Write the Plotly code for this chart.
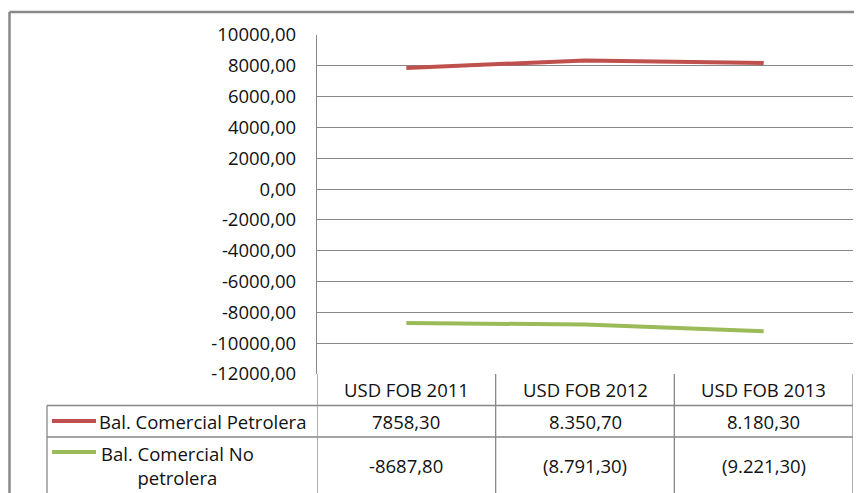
import plotly.graph_objects as go

# ---- data ----
categories = ["USD FOB 2011", "USD FOB 2012", "USD FOB 2013"]
series_names = ["Bal. Comercial Petrolera", "Bal. Comercial No<br>petrolera"]
petrolera = [7858.30, 8350.70, 8180.30]
no_petrolera = [-8687.80, -8791.30, -9221.30]
petrolera_labels = ["7858,30", "8.350,70", "8.180,30"]
no_petrolera_labels = ["-8687,80", "(8.791,30)", "(9.221,30)"]
y_tickvals = [10000, 8000, 6000, 4000, 2000, 0, -2000, -4000, -6000, -8000, -10000, -12000]
y_ticktext = ["10000,00", "8000,00", "6000,00", "4000,00", "2000,00", "0,00",
              "-2000,00", "-4000,00", "-6000,00", "-8000,00", "-10000,00", "-12000,00"]

# the page body adds an 8px margin, so the figure is placed at (8, 8) in the window
OFF = 8
W, H = 862 - OFF, 493 - OFF
RED = "#C0504D"
GREEN = "#9BBB59"
GRID = "#878787"
FONT = "Open Sans"
TXT = "#111111"
FS = 18.5


def px(x):
    return (x - OFF) / W


def py(y):
    return 1 - (y - OFF) / H


fig = go.Figure()
fig.add_trace(go.Scatter(x=categories, y=petrolera, mode="lines",
                         line=dict(color=RED, width=4), name="Bal. Comercial Petrolera"))
fig.add_trace(go.Scatter(x=categories, y=no_petrolera, mode="lines",
                         line=dict(color=GREEN, width=4), name="Bal. Comercial No petrolera"))

shapes = []
line_style = dict(color=GRID, width=1.3)
# outer chart border (left and top)
shapes.append(dict(type="line", xref="paper", yref="paper", x0=px(9.5), x1=px(9.5), y0=py(12), y1=py(500),
                   line=dict(color="#888888", width=2.5)))
shapes.append(dict(type="line", xref="paper", yref="paper", x0=px(9.5), x1=px(870), y0=py(12), y1=py(12),
                   line=dict(color="#888888", width=2.5)))
# table horizontal lines
for yy in (405.5, 437):
    shapes.append(dict(type="line", xref="paper", yref="paper", x0=px(47), x1=px(853), y0=py(yy), y1=py(yy),
                       line=line_style))
# table left edge
shapes.append(dict(type="line", xref="paper", yref="paper", x0=px(47), x1=px(47), y0=py(405.5), y1=py(500),
                   line=line_style))
# column dividers (aligned with category axis)
for xb in (-0.5, 0.5, 1.5, 2.5):
    shapes.append(dict(type="line", xref="x", yref="paper", x0=xb, x1=xb, y0=py(374), y1=py(500),
                       line=line_style))
# legend keys
shapes.append(dict(type="line", xref="paper", yref="paper", x0=px(52), x1=px(96), y0=py(421), y1=py(421),
                   line=dict(color=RED, width=4)))
shapes.append(dict(type="line", xref="paper", yref="paper", x0=px(52), x1=px(96), y0=py(452), y1=py(452),
                   line=dict(color=GREEN, width=4)))

annotations = []
fnt = dict(family=FONT, size=FS, color=TXT)
for i, c in enumerate(categories):
    annotations.append(dict(x=i, y=py(389.5), xref="x", yref="paper", text=c, showarrow=False,
                            font=fnt, xanchor="center", yanchor="middle"))
    annotations.append(dict(x=i, y=py(421), xref="x", yref="paper", text=petrolera_labels[i], showarrow=False,
                            font=fnt, xanchor="center", yanchor="middle"))
    annotations.append(dict(x=i, y=py(465), xref="x", yref="paper", text=no_petrolera_labels[i], showarrow=False,
                            font=fnt, xanchor="center", yanchor="middle"))
annotations.append(dict(x=px(97), y=py(421), xref="paper", yref="paper", text=series_names[0], showarrow=False,
                        font=fnt, xanchor="left", yanchor="middle"))
annotations.append(dict(x=px(177), y=py(465), xref="paper", yref="paper", text=series_names[1], showarrow=False,
                        font=fnt, xanchor="center", yanchor="middle", align="center"))

fig.update_layout(
    width=W, height=H,
    autosize=False,
    margin=dict(l=0, r=0, t=0, b=0, pad=0, autoexpand=False),
    paper_bgcolor="white", plot_bgcolor="white",
    showlegend=False,
    font=dict(family=FONT, size=FS, color=TXT),
    shapes=shapes,
    annotations=annotations,
    xaxis=dict(domain=[px(317), px(853)], range=[-0.5, 2.5], type="category", automargin=False,
               showticklabels=False, showgrid=False, zeroline=False, showline=False, ticks=""),
    yaxis=dict(domain=[py(374), py(35)], range=[-12000, 10000], automargin=False,
               tickvals=y_tickvals, ticktext=y_ticktext,
               showgrid=True, gridcolor=GRID, gridwidth=1.3, zeroline=False,
               showline=True, linecolor=GRID, linewidth=1.3, ticks="",
               ticklabelstandoff=16,
               tickfont=dict(family=FONT, size=FS, color=TXT)),
)

fig.write_html("out.html")
